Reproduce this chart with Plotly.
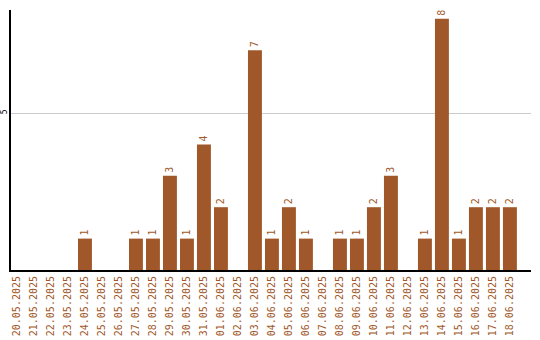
import plotly.graph_objects as go

dates = ["20.05.2025", "21.05.2025", "22.05.2025", "23.05.2025", "24.05.2025",
         "25.05.2025", "26.05.2025", "27.05.2025", "28.05.2025", "29.05.2025",
         "30.05.2025", "31.05.2025", "01.06.2025", "02.06.2025", "03.06.2025",
         "04.06.2025", "05.06.2025", "06.06.2025", "07.06.2025", "08.06.2025",
         "09.06.2025", "10.06.2025", "11.06.2025", "12.06.2025", "13.06.2025",
         "14.06.2025", "15.06.2025", "16.06.2025", "17.06.2025", "18.06.2025"]
counts = [0, 0, 0, 0, 1, 0, 0, 1, 1, 3, 1, 4, 2, 0, 7, 1, 2, 1, 0, 1,
          1, 2, 3, 0, 1, 8, 1, 2, 2, 2]

color = "#a0582a"
labels = [str(v) if v > 0 else "" for v in counts]

fig = go.Figure(go.Bar(
    x=list(range(len(dates))), y=counts, marker_color=color, marker_line_width=0,
    text=labels, textposition="outside", textangle=-90,
    textfont=dict(family="DejaVu Sans Mono", size=10, color=color),
    cliponaxis=False,
))
fig.update_layout(
    width=540, height=340,
    margin=dict(l=11, r=9, t=10, b=70),
    plot_bgcolor="white", paper_bgcolor="white",
    bargap=0.18, showlegend=False,
    xaxis=dict(tickmode="array", tickvals=list(range(len(dates))), ticktext=dates,
               tickangle=-90, range=[-0.35, 30.24], showgrid=False, automargin=False,
               showline=True, linecolor="black", linewidth=2, ticks="",
               tickfont=dict(family="DejaVu Sans Mono", size=10, color=color)),
    yaxis=dict(range=[0, 8.28], tickvals=[5], ticktext=["5"], tickangle=-90,
               showgrid=True, gridcolor="#cccccc", gridwidth=1, zeroline=False,
               automargin=False, ticklabelstandoff=-1,
               showline=True, linecolor="black", linewidth=2, ticks="",
               tickfont=dict(family="DejaVu Sans Mono", size=8, color="black")),
)
fig.write_html("out.html")
